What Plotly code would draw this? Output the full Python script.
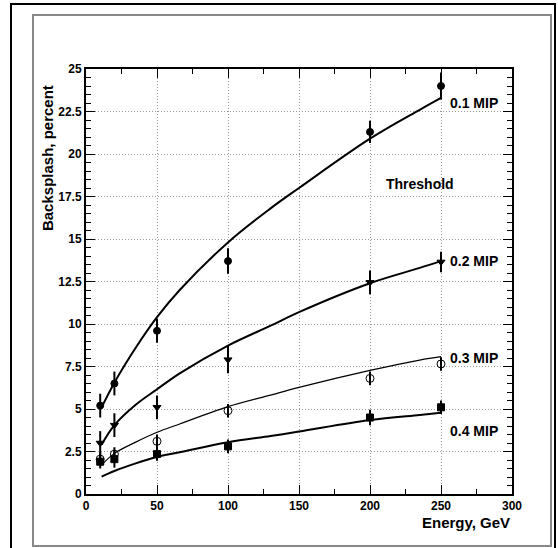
import plotly.graph_objects as go

# ---- data ----
energy = [10, 20, 50, 100, 200, 250]
mip01 = [5.2, 6.5, 9.6, 13.7, 21.3, 24.0]
mip02 = [3.0, 4.05, 5.1, 7.9, 12.45, 13.65]
mip03 = [2.05, 2.35, 3.1, 4.9, 6.8, 7.65]
mip04 = [1.9, 2.05, 2.35, 2.8, 4.5, 5.1]
err01 = [0.7, 0.7, 0.7, 0.75, 0.65, 0.8]
err02 = [0.7, 0.7, 0.7, 0.8, 0.7, 0.6]
err03 = [0.4, 0.4, 0.4, 0.4, 0.4, 0.4]
err04 = [0.4, 0.5, 0.4, 0.4, 0.45, 0.4]

fit_x = [11, 20, 35, 50, 66, 100, 130, 150, 200, 235, 250]
fit01 = [5.1, 6.55, 8.6, 10.4, 12.0, 14.8, 16.8, 18.0, 20.9, 22.6, 23.3]
fit02 = [2.9, 4.05, 5.25, 6.16, 7.1, 8.73, 9.9, 10.7, 12.4, 13.3, 13.7]
fit03 = [1.7, 2.39, 3.05, 3.63, 4.12, 5.14, 5.82, 6.27, 7.27, 7.88, 8.08]
fit04 = [1.02, 1.35, 1.8, 2.18, 2.45, 3.04, 3.41, 3.67, 4.35, 4.65, 4.78]

labels = ["0.1 MIP", "0.2 MIP", "0.3 MIP", "0.4 MIP"]
label_y = [23.0, 13.72, 8.02, 3.72]

FONT = "Liberation Sans, Arial, sans-serif"

fig = go.Figure()

fits = [(fit01, 2), (fit02, 2), (fit03, 1.2), (fit04, 2)]
for fy, w in fits:
    fig.add_trace(go.Scatter(x=fit_x, y=fy, mode="lines",
                             line=dict(color="black", width=w, shape="spline", smoothing=1.0),
                             hoverinfo="skip", showlegend=False))

series = [
    (mip01, err01, "circle", 7),
    (mip02, err02, "triangle-down", 7),
    (mip03, err03, "circle-open", 8),
    (mip04, err04, "square", 7),
]
for ys, es, sym, sz in series:
    fig.add_trace(go.Scatter(
        x=energy, y=ys, mode="markers",
        marker=dict(symbol=sym, size=sz, color="black", line=dict(color="black", width=1)),
        error_y=dict(type="data", array=es, color="black", thickness=2, width=0),
        showlegend=False))

ann = []
for t, yv in zip(labels, label_y):
    ann.append(dict(x=255, y=yv, xref="x", yref="y", text=t, showarrow=False,
                    xanchor="left", yanchor="middle",
                    font=dict(family=FONT, size=14, color="black", weight="bold")))
ann.append(dict(x=210, y=18.25, xref="x", yref="y", text="Threshold", showarrow=False,
                xanchor="left", yanchor="middle",
                font=dict(family=FONT, size=14, color="black", weight="bold")))
ann.append(dict(x=1.0, y=-0.066, xref="paper", yref="paper", text="Energy, GeV",
                showarrow=False, xanchor="right", yanchor="middle",
                font=dict(family=FONT, size=15, color="black", weight="bold")))
ann.append(dict(x=-0.092, y=0.79, xref="paper", yref="paper", text="Backsplash, percent",
                showarrow=False, textangle=-90, xanchor="center", yanchor="middle",
                font=dict(family=FONT, size=15, color="black", weight="bold")))

W, H = 558, 548
L, T = 86, 69
pw, ph = 426, 425
R, B = W - L - pw, H - T - ph
def px(xp):
    return (xp - L) / pw
def py(yp):
    return (T + ph - yp) / ph

shapes = [
    dict(type="rect", xref="paper", yref="paper", x0=px(11), x1=px(555), y0=py(552), y1=py(4),
         line=dict(color="black", width=2), layer="below"),
    dict(type="rect", xref="paper", yref="paper", x0=px(33), x1=px(551), y0=py(546), y1=py(15),
         line=dict(color="#888888", width=2), layer="below"),
]

axis_common = dict(showline=True, linecolor="black", linewidth=2, mirror="ticks",
                   ticks="inside", ticklen=9, tickwidth=1, tickcolor="black",
                   showgrid=True, gridcolor="#9a9a9a", griddash="1px,2px", gridwidth=1,
                   zeroline=False,
                   tickfont=dict(family=FONT, size=12, color="black", weight="bold"))

fig.update_layout(
    width=W, height=H,
    margin=dict(l=L, r=R, t=T, b=B),
    paper_bgcolor="white", plot_bgcolor="white",
    xaxis=dict(range=[0, 300], dtick=50, tick0=0,
               minor=dict(ticks="inside", ticklen=5, dtick=25, tickcolor="black", showgrid=False),
               **axis_common),
    yaxis=dict(range=[0, 25], dtick=2.5, tick0=0,
               minor=dict(ticks="inside", ticklen=5, dtick=0.5, tickcolor="black", showgrid=False),
               **axis_common),
    annotations=ann,
    shapes=shapes,
)

fig.write_html("out.html", config={"displayModeBar": False},
               post_script="document.body.style.margin='0px';")
